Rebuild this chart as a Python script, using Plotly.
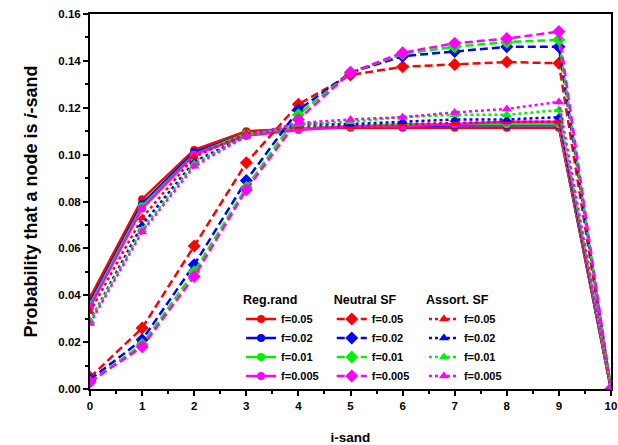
import plotly.graph_objects as go

x_vals = list(range(0, 11))
f_labels = ["f=0.05", "f=0.02", "f=0.01", "f=0.005"]
colors = ["#ff0000", "#0000ff", "#00ee00", "#ff00ff"]

# Reg.rand (solid, circles)
reg_005 = [0.039, 0.081, 0.102, 0.110, 0.111, 0.1115, 0.1115, 0.1115, 0.1115, 0.1115, 0.0]
reg_002 = [0.037, 0.079, 0.101, 0.109, 0.111, 0.112, 0.112, 0.1125, 0.1125, 0.1125, 0.0]
reg_001 = [0.036, 0.078, 0.100, 0.109, 0.111, 0.112, 0.113, 0.113, 0.113, 0.113, 0.0]
reg_0005 = [0.035, 0.077, 0.100, 0.108, 0.1105, 0.112, 0.112, 0.113, 0.114, 0.114, 0.0]

# Neutral SF (dashed, diamonds)
neu_005 = [0.005, 0.026, 0.061, 0.0965, 0.1215, 0.134, 0.1375, 0.1385, 0.1395, 0.139, 0.0]
neu_002 = [0.004, 0.021, 0.053, 0.089, 0.119, 0.135, 0.142, 0.144, 0.146, 0.146, 0.0]
neu_001 = [0.003, 0.019, 0.050, 0.086, 0.117, 0.135, 0.143, 0.146, 0.148, 0.149, 0.0]
neu_0005 = [0.003, 0.018, 0.048, 0.085, 0.115, 0.135, 0.1435, 0.1475, 0.1495, 0.1525, 0.0]

# Assort. SF (dotted, triangles)
ass_005 = [0.033, 0.073, 0.099, 0.109, 0.112, 0.112, 0.113, 0.1135, 0.114, 0.114, 0.0]
ass_002 = [0.029, 0.070, 0.097, 0.108, 0.113, 0.113, 0.114, 0.115, 0.115, 0.116, 0.0]
ass_001 = [0.029, 0.068, 0.096, 0.108, 0.113, 0.114, 0.116, 0.117, 0.117, 0.119, 0.0]
ass_0005 = [0.028, 0.067, 0.095, 0.108, 0.1135, 0.115, 0.116, 0.118, 0.1195, 0.1225, 0.0]

groups = [
    ("legend", [reg_005, reg_002, reg_001, reg_0005], "solid", "circle", 8),
    ("legend2", [neu_005, neu_002, neu_001, neu_0005], "8px,4px", "diamond", 10),
    ("legend3", [ass_005, ass_002, ass_001, ass_0005], "3px,3px", "triangle-up", 9),
]

fig = go.Figure()
for leg, series, dash, sym, msize in groups:
    for ys, lab, col in zip(series, f_labels, colors):
        fig.add_trace(go.Scatter(
            x=x_vals, y=ys, mode="lines+markers", name=lab, legend=leg,
            line=dict(color=col, width=2.5, dash=dash),
            marker=dict(symbol=sym, size=msize, color=col),
        ))

font_family = "Arial, Liberation Sans, sans-serif"
leg_common = dict(
    bgcolor="rgba(0,0,0,0)", borderwidth=0, xanchor="left", yanchor="top",
    font=dict(family=font_family, size=11, color="black", weight="bold"),
    tracegroupgap=0, itemwidth=30,
)
fig.update_layout(
    width=618, height=445,
    margin=dict(l=90, r=7, t=14, b=56),
    paper_bgcolor="white", plot_bgcolor="white",
    font=dict(family=font_family, color="black"),
    legend=dict(title=dict(text="<b>Reg.rand</b>", font=dict(size=12.5)), x=0.290, y=0.269, **leg_common),
    legend2=dict(title=dict(text="<b>Neutral SF</b>", font=dict(size=12.5)), x=0.464, y=0.269, **leg_common),
    legend3=dict(title=dict(text="<b>Assort. SF</b>", font=dict(size=12.5)), x=0.641, y=0.269, **leg_common),
)
fig.update_xaxes(
    range=[0, 10], tickmode="array", tickvals=list(range(0, 11)),
    ticks="outside", ticklen=5, tickwidth=1.5, tickcolor="black",
    minor=dict(tickvals=[i + 0.5 for i in range(10)], ticks="outside", ticklen=3, tickwidth=1.5, tickcolor="black"),
    showline=True, linecolor="black", linewidth=2, mirror=True,
    showgrid=False, zeroline=False, automargin=False,
    tickfont=dict(size=11.5, weight="bold", family=font_family),
    title=dict(text="<b>i-sand</b>", font=dict(size=13.5), standoff=22),
)
fig.update_yaxes(
    range=[0, 0.16], tickmode="array", tickvals=[0, 0.02, 0.04, 0.06, 0.08, 0.10, 0.12, 0.14, 0.16],
    ticktext=["0.00", "0.02", "0.04", "0.06", "0.08", "0.10", "0.12", "0.14", "0.16"],
    ticks="outside", ticklen=5, tickwidth=1.5, tickcolor="black",
    minor=dict(tickvals=[0.01, 0.03, 0.05, 0.07, 0.09, 0.11, 0.13, 0.15], ticks="outside", ticklen=3, tickwidth=1.5, tickcolor="black"),
    showline=True, linecolor="black", linewidth=2, mirror=True,
    showgrid=False, zeroline=False, automargin=False,
    tickfont=dict(size=11.5, weight="bold", family=font_family),
    title=dict(text="<b>Probability that a node is <i>i</i>-sand</b>", font=dict(size=18), standoff=16),
)
fig.write_html("out.html", config={"displayModeBar": False},
               post_script="document.body.style.margin='0px';")
